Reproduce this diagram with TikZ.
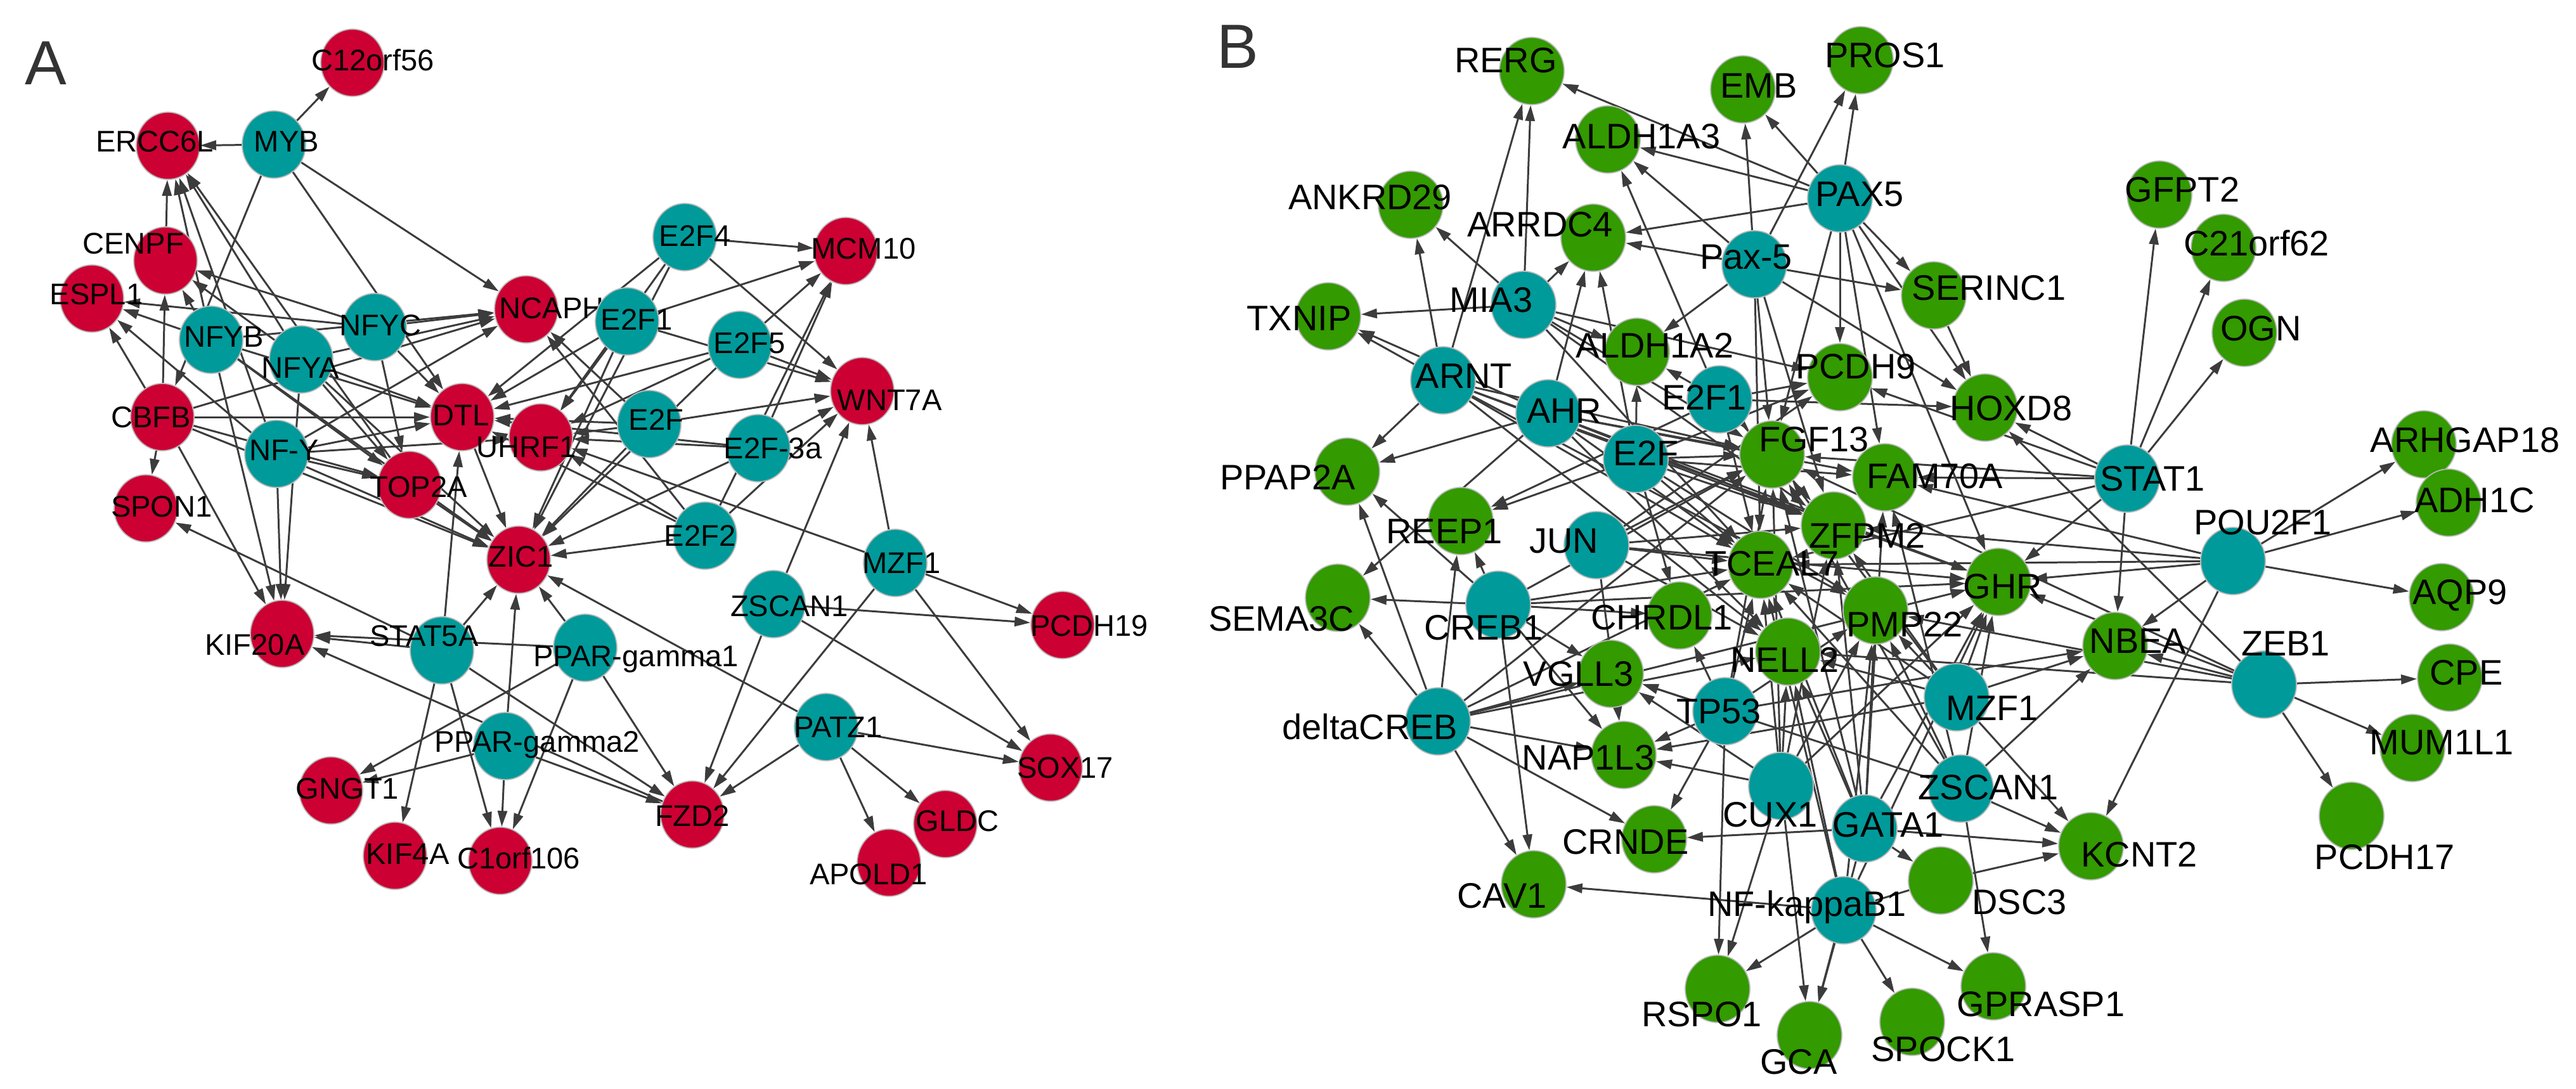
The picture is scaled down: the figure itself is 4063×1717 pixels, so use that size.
\documentclass[tikz,border=0pt]{standalone}
\usepackage{fontspec}
\setmainfont{Liberation Sans}
\usetikzlibrary{arrows.meta,shapes.geometric}
\pgfdeclarelayer{background}
\pgfsetlayers{background,main}
\definecolor{gred}{HTML}{CC0033}
\definecolor{gteal}{HTML}{009A9A}
\definecolor{ggreen}{HTML}{339A00}
\definecolor{edgec}{HTML}{3C3C3C}
\tikzset{
  gnode/.style={ellipse,draw=gray!55,line width=0.5pt,inner sep=0pt},
  ared/.style={gnode,fill=gred,minimum width=1.0cm,minimum height=1.06cm},
  ateal/.style={gnode,fill=gteal,minimum width=1.0cm,minimum height=1.06cm},
  bgreen/.style={gnode,fill=ggreen,minimum width=1.02cm,minimum height=1.06cm},
  bteal/.style={gnode,fill=gteal,minimum width=1.02cm,minimum height=1.06cm},
  la/.style={inner sep=0pt,font=\fontsize{13.4}{14}\selectfont},
  lb/.style={inner sep=0pt,font=\fontsize{15.9}{16}\selectfont},
  panel/.style={inner sep=0pt,text=black!80,font=\fontsize{28}{28}\selectfont},
  edge/.style={draw=edgec,line width=0.85pt,-{Triangle[length=0.25cm,width=0.15cm]}}
}
\newcommand{\gn}[6]{\node[#1] (#2) at (#3) {}; \node[#4] (#2t) at (#5) {#6};}
\begin{document}
\begin{tikzpicture}[x=0.01cm,y=-0.01cm]
\useasboundingbox (0,0) rectangle (4063,1717);
\node[panel] (pA) at (72,100) {A};
\node[panel] (pB) at (1952,74) {B};
% ---------------- Panel A nodes
\gn{ared}{aC12}{556,99}{la}{588,95}{C12orf56}
\gn{ateal}{aMYB}{432,228}{la}{452,223}{MYB}
\gn{ared}{aERCC}{265,230}{la}{244,223}{ERCC6L}
\gn{ared}{aCENPF}{261,411}{la}{210,384}{CENPF}
\gn{ared}{aESPL1}{145,471}{la}{152,464}{ESPL1}
\gn{ateal}{aNFYB}{333,536}{la}{353,531}{NFYB}
\gn{ateal}{aNFYA}{475,567}{la}{474,580}{NFYA}
\gn{ateal}{aNFYC}{591,516}{la}{600,513}{NFYC}
\gn{ared}{aNCAPH}{830,488}{la}{870,486}{NCAPH}
\gn{ared}{aCBFB}{256,658}{la}{238,658}{CBFB}
\gn{ared}{aDTL}{729,658}{la}{727,655}{DTL}
\gn{ared}{aUHRF1}{853,690}{la}{830,705}{UHRF1}
\gn{ateal}{aEtwoFfour}{1080,374}{la}{1096,372}{E2F4}
\gn{ared}{aMCM10}{1334,396}{la}{1362,392}{MCM10}
\gn{ateal}{aEtwoFone}{989,507}{la}{1004,504}{E2F1}
\gn{ateal}{aEtwoFfive}{1167,544}{la}{1182,541}{E2F5}
\gn{ared}{aWNT7A}{1360,617}{la}{1403,631}{WNT7A}
\gn{ateal}{aEtwoF}{1024,669}{la}{1035,662}{E2F}
\gn{ateal}{aEtwoFthree}{1196,707}{la}{1219,707}{E2F-3a}
\gn{ateal}{aEtwoFtwo}{1112,845}{la}{1104,845}{E2F2}
\gn{ateal}{aNFY}{436,716}{la}{448,710}{NF-Y}
\gn{ared}{aTOP2A}{646,765}{la}{660,768}{TOP2A}
\gn{ared}{aSPON1}{230,802}{la}{255,799}{SPON1}
\gn{ared}{aZIC1}{818,883}{la}{822,878}{ZIC1}
\gn{ateal}{aMZF1}{1412,888}{la}{1422,888}{MZF1}
\gn{ateal}{aZSCAN1}{1220,953}{la}{1245,956}{ZSCAN1}
\gn{ared}{aPCDH19}{1676,986}{la}{1718,987}{PCDH19}
\gn{ared}{aKIF20A}{445,1000}{la}{402,1017}{KIF20A}
\gn{ateal}{aSTAT5A}{697,1026}{la}{669,1003}{STAT5A}
\gn{ateal}{aPPARgone}{923,1022}{la}{1003,1040}{PPAR-gamma1}
\gn{ateal}{aPATZ1}{1303,1147}{la}{1322,1147}{PATZ1}
\gn{ateal}{aPPARgtwo}{797,1177}{la}{847,1175}{PPAR-gamma2}
\gn{ared}{aSOX17}{1657,1211}{la}{1680,1211}{SOX17}
\gn{ared}{aGNGT1}{522,1247}{la}{548,1244}{GNGT1}
\gn{ared}{aFZD2}{1092,1285}{la}{1092,1287}{FZD2}
\gn{ared}{aGLDC}{1491,1300}{la}{1510,1295}{GLDC}
\gn{ared}{aKIF4A}{623,1350}{la}{643,1347}{KIF4A}
\gn{ared}{aC1orf}{789,1358}{la}{818,1354}{C1orf106}
\gn{ared}{aAPOLD1}{1402,1361}{la}{1370,1379}{APOLD1}
% ---------------- Panel B nodes
\gn{bgreen}{bRERG}{2416,112}{lb}{2375,95}{RERG}
\gn{bgreen}{bALDHaiii}{2536,220}{lb}{2589,215}{ALDH1A3}
\gn{bgreen}{bEMB}{2749,141}{lb}{2774,135}{EMB}
\gn{bgreen}{bPROS1}{2935,95}{lb}{2973,87}{PROS1}
\gn{bgreen}{bANKRD}{2225,323}{lb}{2161,311}{ANKRD29}
\gn{bgreen}{bARRDC4}{2513,375}{lb}{2429,354}{ARRDC4}
\gn{bteal}{bPAXfive}{2902,313}{lb}{2933,307}{PAX5}
\gn{bteal}{bPaxfive}{2767,417}{lb}{2754,406}{Pax-5}
\gn{bgreen}{bSERINC1}{3050,466}{lb}{3137,454}{SERINC1}
\gn{bgreen}{bGFPT2}{3406,307}{lb}{3442,299}{GFPT2}
\gn{bgreen}{bCtwoone}{3507,391}{lb}{3559,384}{C21orf62}
\gn{bgreen}{bOGN}{3540,525}{lb}{3566,518}{OGN}
\gn{bgreen}{bTXNIP}{2095,499}{lb}{2049,502}{TXNIP}
\gn{bteal}{bMIA3}{2403,481}{lb}{2352,473}{MIA3}
\gn{bgreen}{bALDHaii}{2582,555}{lb}{2610,545}{ALDH1A2}
\gn{bteal}{bARNT}{2276,600}{lb}{2309,593}{ARNT}
\gn{bgreen}{bPCDH9}{2902,595}{lb}{2927,578}{PCDH9}
\gn{bgreen}{bHOXD8}{3131,643}{lb}{3172,644}{HOXD8}
\gn{bteal}{bEtwoFone}{2712,630}{lb}{2688,627}{E2F1}
\gn{bteal}{bAHR}{2442,652}{lb}{2467,648}{AHR}
\gn{bteal}{bEtwoF}{2580,724}{lb}{2596,715}{E2F}
\gn{bgreen}{bFGF13}{2795,717}{lb}{2861,693}{FGF13}
\gn{bgreen}{bFAM70A}{2973,753}{lb}{3052,751}{FAM70A}
\gn{bteal}{bSTAT1}{3355,755}{lb}{3395,755}{STAT1}
\gn{bgreen}{bARHGAP}{3823,701}{lb}{3888,694}{ARHGAP18}
\gn{bgreen}{bADH1C}{3862,793}{lb}{3903,789}{ADH1C}
\gn{bgreen}{bPPAP2A}{2125,744}{lb}{2031,753}{PPAP2A}
\gn{bgreen}{bREEP1}{2304,822}{lb}{2278,838}{REEP1}
\gn{bteal}{bJUN}{2518,860}{lb}{2467,854}{JUN}
\gn{bgreen}{bZFPM2}{2892,829}{lb}{2945,845}{ZFPM2}
\gn{bgreen}{bTCEAL7}{2777,891}{lb}{2795,889}{TCEAL7}
\gn{bteal}{bPOU2F1}{3522,885}{lb}{3569,824}{POU2F1}
\gn{bgreen}{bGHR}{3152,918}{lb}{3159,925}{GHR}
\gn{bgreen}{bAQP9}{3851,942}{lb}{3880,939}{AQP9}
\gn{bgreen}{bSEMA3C}{2110,943}{lb}{2021,976}{SEMA3C}
\gn{bteal}{bCREB1}{2363,954}{lb}{2340,990}{CREB1}
\gn{bgreen}{bCHRDL1}{2649,971}{lb}{2621,974}{CHRDL1}
\gn{bgreen}{bPMP22}{2958,963}{lb}{3004,985}{PMP22}
\gn{bgreen}{bNBEA}{3336,1019}{lb}{3372,1011}{NBEA}
\gn{bgreen}{bNELL2}{2820,1028}{lb}{2815,1041}{NELL2}
\gn{bteal}{bZEB1}{3571,1080}{lb}{3605,1015}{ZEB1}
\gn{bgreen}{bCPE}{3864,1069}{lb}{3890,1061}{CPE}
\gn{bgreen}{bVGLL3}{2541,1063}{lb}{2490,1063}{VGLL3}
\gn{bteal}{bMZF1}{3086,1100}{lb}{3142,1117}{MZF1}
\gn{bteal}{bTP53}{2721,1122}{lb}{2711,1122}{TP53}
\gn{bteal}{bdCREB}{2268,1138}{lb}{2161,1146}{deltaCREB}
\gn{bgreen}{bMUM1L1}{3805,1180}{lb}{3851,1172}{MUM1L1}
\gn{bgreen}{bNAP1L3}{2561,1191}{lb}{2505,1195}{NAP1L3}
\gn{bteal}{bCUX1}{2809,1240}{lb}{2792,1285}{CUX1}
\gn{bteal}{bZSCAN1}{3093,1244}{lb}{3136,1242}{ZSCAN1}
\gn{bgreen}{bPCDH17}{3709,1287}{lb}{3761,1352}{PCDH17}
\gn{bteal}{bGATA1}{2941,1307}{lb}{2978,1301}{GATA1}
\gn{bgreen}{bCRNDE}{2609,1324}{lb}{2564,1328}{CRNDE}
\gn{bgreen}{bKCNT2}{3298,1335}{lb}{3374,1348}{KCNT2}
\gn{bgreen}{bDSC3}{3061,1389}{lb}{3185,1423}{DSC3}
\gn{bgreen}{bCAV1}{2419,1395}{lb}{2369,1413}{CAV1}
\gn{bteal}{bNFkB}{2908,1436}{lb}{2850,1431}{NF-kappaB1}
\gn{bgreen}{bRSPO1}{2709,1560}{lb}{2684,1600}{RSPO1}
\gn{bgreen}{bGPRASP1}{3144,1556}{lb}{3219,1584}{GPRASP1}
\gn{bgreen}{bSPOCK1}{3016,1612}{lb}{3065,1655}{SPOCK1}
\gn{bgreen}{bGCA}{2854,1633}{lb}{2837,1675}{GCA}
% ---------------- edges
\begin{pgfonlayer}{background}
\foreach \s/\e in {aMYB/aC12,aMYB/aERCC,aMYB/aNCAPH,aMYB/aCBFB,aMYB/aDTL,
 aCBFB/aCENPF,aCENPF/aERCC,aNFYB/aERCC,aNFY/aERCC,aNFYA/aERCC,aTOP2A/aERCC,
 aNFYC/aCENPF,aNFYB/aCENPF,aNFYA/aCENPF,
 aNFYB/aESPL1,aNFYC/aESPL1,aCBFB/aESPL1,aNFY/aESPL1,
 aNFYB/aNCAPH,aNFYC/aNCAPH,aNFYA/aNCAPH,aCBFB/aNCAPH,aNFY/aNCAPH,
 aNFYB/aDTL,aNFYA/aDTL,aNFYC/aDTL,aCBFB/aDTL,aNFY/aDTL,
 aNFYB/aTOP2A,aNFYA/aTOP2A,aNFY/aTOP2A,aCBFB/aTOP2A,aNFYC/aTOP2A,
 aNFYB/aZIC1,aNFY/aZIC1,aNFYA/aZIC1,aCBFB/aZIC1,aTOP2A/aZIC1,aDTL/aZIC1,
 aNFYB/aKIF20A,aNFY/aKIF20A,aNFYA/aKIF20A,aCBFB/aKIF20A,
 aCBFB/aSPON1,aSTAT5A/aSPON1,aSTAT5A/aKIF20A,aSTAT5A/aZIC1,aSTAT5A/aDTL,aSTAT5A/aKIF4A,aSTAT5A/aC1orf,aSTAT5A/aFZD2,
 aPPARgone/aKIF20A,aPPARgone/aZIC1,aPPARgone/aGNGT1,aPPARgone/aC1orf,aPPARgone/aFZD2,
 aPPARgtwo/aZIC1,aPPARgtwo/aC1orf,aPPARgtwo/aGNGT1,aPPARgtwo/aFZD2,aFZD2/aKIF20A,
 aZSCAN1/aFZD2,aZSCAN1/aPCDH19,aZSCAN1/aSOX17,aZSCAN1/aWNT7A,
 aMZF1/aWNT7A,aMZF1/aPCDH19,aMZF1/aSOX17,aMZF1/aFZD2,aMZF1/aUHRF1,
 aPATZ1/aFZD2,aPATZ1/aSOX17,aPATZ1/aGLDC,aPATZ1/aAPOLD1,aPATZ1/aZIC1,
 aEtwoFfour/aMCM10,aEtwoFfour/aWNT7A,aEtwoFfour/aDTL,aEtwoFfour/aUHRF1,aEtwoFfour/aZIC1,
 aEtwoFone/aMCM10,aEtwoFone/aDTL,aEtwoFone/aUHRF1,aEtwoFone/aZIC1,aEtwoFone/aWNT7A,
 aEtwoFfive/aMCM10,aEtwoFfive/aWNT7A,aEtwoFfive/aDTL,aEtwoFfive/aUHRF1,aEtwoFfive/aZIC1,
 aEtwoF/aWNT7A,aEtwoF/aDTL,aEtwoF/aUHRF1,aEtwoF/aZIC1,aEtwoF/aNCAPH,
 aEtwoFthree/aMCM10,aEtwoFthree/aWNT7A,aEtwoFthree/aUHRF1,aEtwoFthree/aDTL,aEtwoFthree/aZIC1,
 aEtwoFtwo/aMCM10,aEtwoFtwo/aZIC1,aEtwoFtwo/aUHRF1,aEtwoFtwo/aWNT7A,aEtwoFtwo/aNCAPH,aEtwoFtwo/aDTL,
 aNFY/aUHRF1}
  \draw[edge] (\s) -- (\e);
\foreach \s/\e in {bMIA3/bRERG,bMIA3/bANKRD,bMIA3/bTXNIP,bMIA3/bARRDC4,bMIA3/bFGF13,bMIA3/bTCEAL7,bMIA3/bPCDH9,bMIA3/bZFPM2,bMIA3/bALDHaii,
 bARNT/bRERG,bARNT/bANKRD,bARNT/bTXNIP,bARNT/bPPAP2A,bARNT/bFGF13,bARNT/bTCEAL7,bARNT/bZFPM2,bARNT/bGHR,bARNT/bNELL2,bARNT/bPMP22,
 bAHR/bTXNIP,bAHR/bARRDC4,bAHR/bPPAP2A,bAHR/bSEMA3C,bAHR/bFGF13,bAHR/bTCEAL7,bAHR/bFAM70A,bAHR/bZFPM2,bAHR/bGHR,bAHR/bNELL2,
 bPAXfive/bEMB,bPAXfive/bPROS1,bPAXfive/bALDHaiii,bPAXfive/bRERG,bPAXfive/bARRDC4,bPAXfive/bSERINC1,bPAXfive/bHOXD8,bPAXfive/bPCDH9,bPAXfive/bFGF13,bPAXfive/bFAM70A,bPAXfive/bGHR,
 bPaxfive/bEMB,bPaxfive/bPROS1,bPaxfive/bALDHaiii,bPaxfive/bARRDC4,bPaxfive/bSERINC1,bPaxfive/bALDHaii,bPaxfive/bFGF13,bPaxfive/bHOXD8,bPaxfive/bZFPM2,bPaxfive/bTCEAL7,
 bEtwoFone/bALDHaiii,bEtwoFone/bALDHaii,bEtwoFone/bPCDH9,bEtwoFone/bFGF13,bEtwoFone/bREEP1,bEtwoFone/bTCEAL7,bEtwoFone/bZFPM2,bEtwoFone/bHOXD8,
 bEtwoF/bALDHaii,bEtwoF/bARRDC4,bEtwoF/bPCDH9,bEtwoF/bFGF13,bEtwoF/bREEP1,bEtwoF/bTCEAL7,bEtwoF/bZFPM2,bEtwoF/bFAM70A,bEtwoF/bPMP22,bEtwoF/bCHRDL1,
 bJUN/bFGF13,bJUN/bTCEAL7,bJUN/bZFPM2,bJUN/bGHR,bJUN/bNELL2,bJUN/bNAP1L3,bJUN/bPCDH9,
 bCREB1/bREEP1,bCREB1/bPPAP2A,bCREB1/bSEMA3C,bCREB1/bVGLL3,bCREB1/bNAP1L3,bCREB1/bCHRDL1,bCREB1/bTCEAL7,bCREB1/bGHR,bCREB1/bFGF13,bCREB1/bCAV1,
 bdCREB/bPPAP2A,bdCREB/bSEMA3C,bdCREB/bREEP1,bdCREB/bVGLL3,bdCREB/bNAP1L3,bdCREB/bCAV1,bdCREB/bCRNDE,bdCREB/bTCEAL7,bdCREB/bGHR,bdCREB/bNELL2,bdCREB/bFGF13,
 bTP53/bVGLL3,bTP53/bNAP1L3,bTP53/bCHRDL1,bTP53/bTCEAL7,bTP53/bFGF13,bTP53/bNBEA,bTP53/bRSPO1,bTP53/bPMP22,bTP53/bCRNDE,
 bCUX1/bNAP1L3,bCUX1/bVGLL3,bCUX1/bTCEAL7,bCUX1/bFGF13,bCUX1/bZFPM2,bCUX1/bPMP22,bCUX1/bGHR,bCUX1/bRSPO1,bCUX1/bGCA,bCUX1/bNELL2,
 bGATA1/bCRNDE,bGATA1/bKCNT2,bGATA1/bFGF13,bGATA1/bTCEAL7,bGATA1/bZFPM2,bGATA1/bPMP22,bGATA1/bGHR,bGATA1/bNELL2,bGATA1/bFAM70A,bGATA1/bGCA,bGATA1/bDSC3,
 bZSCAN1/bKCNT2,bZSCAN1/bGPRASP1,bZSCAN1/bGHR,bZSCAN1/bPMP22,bZSCAN1/bTCEAL7,bZSCAN1/bNBEA,bZSCAN1/bFGF13,bZSCAN1/bVGLL3,bZSCAN1/bFAM70A,
 bMZF1/bGHR,bMZF1/bNBEA,bMZF1/bKCNT2,bMZF1/bTCEAL7,bMZF1/bNELL2,bMZF1/bFGF13,bMZF1/bZFPM2,bMZF1/bNAP1L3,bMZF1/bPMP22,
 bNFkB/bCAV1,bNFkB/bRSPO1,bNFkB/bGCA,bNFkB/bSPOCK1,bNFkB/bGPRASP1,bNFkB/bGHR,bNFkB/bTCEAL7,bNFkB/bPMP22,bNFkB/bNELL2,
 bDSC3/bKCNT2,
 bSTAT1/bGFPT2,bSTAT1/bCtwoone,bSTAT1/bOGN,bSTAT1/bNBEA,bSTAT1/bHOXD8,bSTAT1/bFGF13,bSTAT1/bFAM70A,bSTAT1/bGHR,bSTAT1/bTCEAL7,bSTAT1/bPCDH9,
 bPOU2F1/bARHGAP,bPOU2F1/bADH1C,bPOU2F1/bAQP9,bPOU2F1/bNBEA,bPOU2F1/bKCNT2,bPOU2F1/bGHR,bPOU2F1/bFAM70A,bPOU2F1/bTCEAL7,bPOU2F1/bZFPM2,
 bZEB1/bCPE,bZEB1/bMUM1L1,bZEB1/bPCDH17,bZEB1/bNBEA,bZEB1/bGHR,bZEB1/bHOXD8,bZEB1/bFGF13,bZEB1/bPMP22,bZEB1/bNELL2,
 bSERINC1/bHOXD8}
  \draw[edge] (\s) -- (\e);
\draw[draw=edgec,line width=0.85pt] (bNFkB) -- (bDSC3);
\end{pgfonlayer}
\end{tikzpicture}
\end{document}
